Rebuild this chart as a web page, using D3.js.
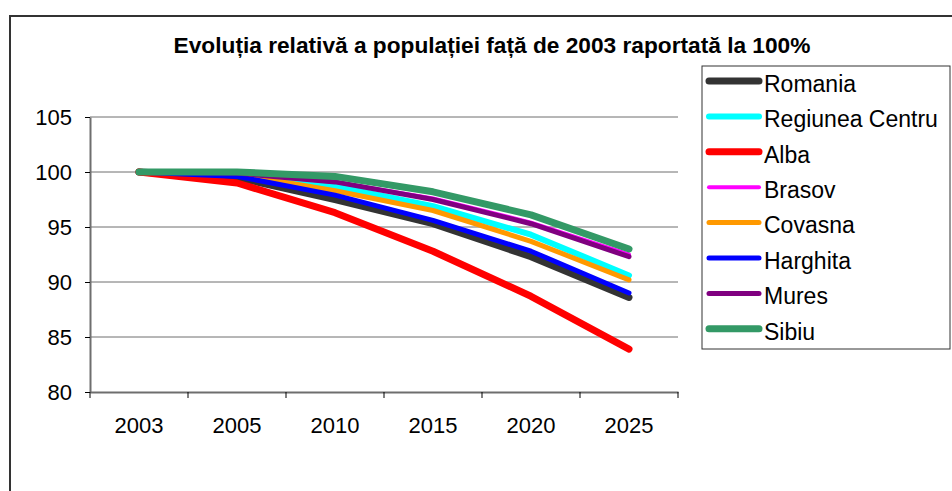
<!DOCTYPE html>
<html>
<head>
<meta charset="utf-8">
<script src="https://cdn.jsdelivr.net/npm/d3@7"></script>
<style>
  body { margin: 0; background: #fff; }
  text { font-family: "Liberation Sans", Arial, sans-serif; fill: #000; }
</style>
</head>
<body>
<svg id="chart-svg" width="952" height="491"></svg>
<script>
var years = ["2003", "2005", "2010", "2015", "2020", "2025"];
var yTicks = [80, 85, 90, 95, 100, 105];

var romania  = [100, 99.5, 97.5, 95.3, 92.3, 88.6];
var centru   = [100, 99.8, 98.7, 96.9, 94.3, 90.6];
var alba     = [100, 99.0, 96.3, 92.8, 88.7, 83.9];
var brasov   = [100, 99.9, 99.1, 97.6, 95.4, 92.5];
var covasna  = [100, 99.8, 98.3, 96.5, 93.7, 90.2];
var harghita = [100, 99.6, 97.9, 95.6, 92.8, 89.0];
var mures    = [100, 99.9, 99.1, 97.5, 95.3, 92.3];
var sibiu    = [100, 100.0, 99.6, 98.2, 96.1, 93.0];

var series = [
  {name: "Romania",         values: romania,  color: "#333333", w: 7},
  {name: "Regiunea Centru", values: centru,   color: "#00ffff", w: 6},
  {name: "Alba",            values: alba,     color: "#ff0000", w: 7},
  {name: "Brasov",          values: brasov,   color: "#ff00ff", w: 4},
  {name: "Covasna",         values: covasna,  color: "#ff9900", w: 5},
  {name: "Harghita",        values: harghita, color: "#0000ff", w: 5},
  {name: "Mures",           values: mures,    color: "#800080", w: 5},
  {name: "Sibiu",           values: sibiu,    color: "#339966", w: 7}
];

var svg = d3.select("#chart-svg");

// outer chart frame (right and bottom run off the picture)
svg.append("path")
    .attr("d", "M10,491 V16 H952")
    .attr("fill", "none")
    .attr("stroke", "#333")
    .attr("stroke-width", 2);

svg.append("text")
    .attr("x", 492)
    .attr("y", 53)
    .attr("text-anchor", "middle")
    .attr("font-weight", "bold")
    .attr("font-size", 22.7)
    .text("Evoluția relativă a populației față de 2003 raportată la 100%");

var x = d3.scaleBand().domain(years).range([90, 678]),
    y = d3.scaleLinear().domain([80, 105]).range([392, 117]);

// gridlines
svg.append("g")
  .selectAll("line")
  .data(yTicks.slice(1))
  .join("line")
    .attr("x1", 90).attr("x2", 678)
    .attr("y1", function(d) { return y(d); })
    .attr("y2", function(d) { return y(d); })
    .attr("stroke", "#6e6e6e")
    .attr("stroke-width", 1);

var yAxis = d3.axisLeft(y).tickValues(yTicks).tickSize(5).tickPadding(13).tickSizeOuter(0);
var gy = svg.append("g")
    .attr("transform", "translate(90,0)")
    .call(yAxis);
gy.select(".domain").attr("stroke", "#6e6e6e").attr("stroke-width", 2);
gy.selectAll("text").attr("font-size", 22).style("font-family", "Liberation Sans, Arial, sans-serif");

var xAxis = d3.axisBottom(x).tickSize(0).tickPadding(25);
var gx = svg.append("g")
    .attr("transform", "translate(0,392)")
    .call(xAxis);
gx.select(".domain").attr("stroke", "#6e6e6e").attr("stroke-width", 2);
gx.selectAll("text").attr("font-size", 22).style("font-family", "Liberation Sans, Arial, sans-serif");

// category boundary ticks
gx.append("g")
  .selectAll("line")
  .data(years.concat(["end"]))
  .join("line")
    .attr("x1", function(d, i) { return x.range()[0] + i * x.step(); })
    .attr("x2", function(d, i) { return x.range()[0] + i * x.step(); })
    .attr("y1", 0).attr("y2", 6)
    .attr("stroke", "#000");

var line = d3.line()
    .x(function(d, i) { return x(years[i]) + x.bandwidth() / 2; })
    .y(function(d) { return y(d); });

svg.append("g")
  .selectAll("path")
  .data(series)
  .join("path")
    .attr("d", function(s) { return line(s.values); })
    .attr("fill", "none")
    .attr("stroke", function(s) { return s.color; })
    .attr("stroke-width", function(s) { return s.w; })
    .attr("stroke-linecap", "round")
    .attr("stroke-linejoin", "round");

// legend
var legend = svg.append("g");
legend.append("rect")
    .attr("x", 702).attr("y", 66)
    .attr("width", 248).attr("height", 283)
    .attr("fill", "#fff")
    .attr("stroke", "#333")
    .attr("stroke-width", 1);

var item = legend.selectAll("g.item")
  .data(series)
  .join("g")
    .attr("class", "item")
    .attr("transform", function(s, i) { return "translate(0," + (81 + i * 35.4) + ")"; });

item.append("line")
    .attr("x1", 709).attr("x2", 759)
    .attr("stroke", function(s) { return s.color; })
    .attr("stroke-width", function(s) { return s.w; })
    .attr("stroke-linecap", "round");

item.append("text")
    .attr("x", 764)
    .attr("dy", "0.47em")
    .attr("font-size", 23)
    .text(function(s) { return s.name; });
</script>
</body>
</html>
